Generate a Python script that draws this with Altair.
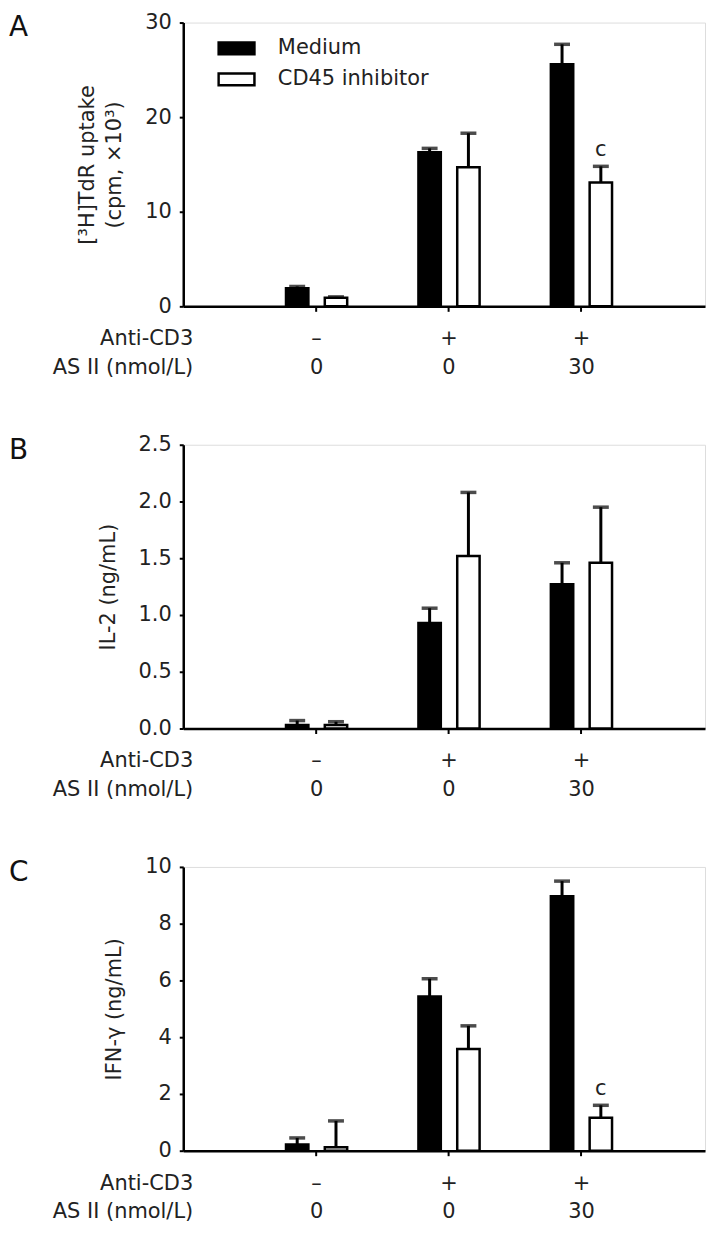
import altair as alt
import pandas as pd

FONT = "DejaVu Sans"
FS = 21

# ---- data ----
anti_cd3 = ["–", "+", "+"]
as_ii = ["0", "0", "30"]
series = ["Medium", "CD45 inhibitor"]
row_labels = ["Anti-CD3", "AS II (nmol/L)"]

a_medium = [1.9, 16.3, 25.6]
a_medium_err = [0.2, 0.4, 2.1]
a_inhib = [0.9, 14.7, 13.1]
a_inhib_err = [0.1, 3.6, 1.7]
a_sig = ["", "", "c"]

b_medium = [0.03, 0.93, 1.27]
b_medium_err = [0.04, 0.13, 0.19]
b_inhib = [0.03, 1.52, 1.46]
b_inhib_err = [0.03, 0.56, 0.49]
b_sig = ["", "", ""]

c_medium = [0.22, 5.43, 8.97]
c_medium_err = [0.23, 0.63, 0.53]
c_inhib = [0.12, 3.58, 1.16]
c_inhib_err = [0.93, 0.82, 0.44]
c_sig = ["", "", "c"]

cats = [f"{a} {b}" for a, b in zip(anti_cd3, as_ii)]

W = 524
H = 285


def build_df(med, med_err, inh, inh_err, sig):
    rows = []
    for i in range(3):
        rows.append(dict(cat=cats[i], series=series[0], value=med[i],
                         top=med[i] + med_err[i], sig=""))
        rows.append(dict(cat=cats[i], series=series[1], value=inh[i],
                         top=inh[i] + inh_err[i], sig=sig[i]))
    return pd.DataFrame(rows)


cat_df = pd.DataFrame({"cat": cats, "cd3": anti_cd3, "asii": as_ii})

x_axis = alt.Axis(labels=False, title=None, domainWidth=2.5, domainColor="black",
                  tickSize=5, tickWidth=2, tickColor="black", grid=False)
x_scale = alt.Scale(paddingInner=0.538, paddingOuter=0.739, align=0.525)


def xenc():
    return alt.X("cat:N", sort=cats, scale=x_scale, axis=x_axis)


def xoenc():
    return alt.XOffset("series:N", sort=series,
                       scale=alt.Scale(paddingInner=0.423, paddingOuter=0))


def panel(letter, df, domain, ticks, fmt, title, legend):
    yscale = alt.Scale(domain=domain, nice=False, zero=True)
    yaxis = alt.Axis(title=title, values=ticks, format=fmt, grid=False,
                     domainWidth=2.5, domainColor="black", tickSize=4, tickWidth=2,
                     tickColor="black", labelPadding=8, labelFontSize=FS,
                     labelFont=FONT, labelColor="#222", titleFont=FONT,
                     titleFontSize=FS, titleFontWeight="normal", titleColor="#222",
                     titlePadding=20, titleLineHeight=27)

    def y(field):
        return alt.Y(field, scale=yscale, axis=yaxis)

    base = alt.Chart(df)
    if legend:
        leg = alt.Legend(orient="none", legendX=34, legendY=11, title=None,
                         symbolType="M-1,-0.33H1V0.33H-1Z", symbolSize=1296,
                         symbolStrokeColor="black", symbolStrokeWidth=2.5,
                         labelFontSize=FS, labelFont=FONT, labelColor="#222",
                         labelOffset=22, padding=0, clipHeight=30, rowPadding=1)
    else:
        leg = None
    bars = base.mark_bar(stroke="black", strokeWidth=2.5).encode(
        x=xenc(), xOffset=xoenc(), y=y("value:Q"),
        fill=alt.Fill("series:N", sort=series,
                      scale=alt.Scale(domain=series, range=["black", "white"]),
                      legend=leg),
    )
    rule = base.mark_rule(strokeWidth=3, color="black").encode(
        x=xenc(), xOffset=xoenc(), y=y("value:Q"), y2="top:Q")
    cap = base.mark_tick(size=16, thickness=3.5, color="black").encode(
        x=xenc(), xOffset=xoenc(), y=y("top:Q"))
    sig = base.transform_filter("datum.sig != ''").mark_text(
        fontSize=FS, font=FONT, dy=-16, color="#222").encode(
        x=xenc(), xOffset=xoenc(), y=y("top:Q"), text="sig:N")

    cd3_txt = alt.Chart(cat_df).mark_text(fontSize=FS, font=FONT, color="#222").encode(
        x=xenc(), y=alt.value(H + 33), text="cd3:N")
    as_txt = alt.Chart(cat_df).mark_text(fontSize=FS, font=FONT, color="#222").encode(
        x=xenc(), y=alt.value(H + 62), text="asii:N")

    lab_df = pd.DataFrame({"t": [row_labels[0]]})
    lab_df2 = pd.DataFrame({"t": [row_labels[1]]})
    lab1 = alt.Chart(lab_df).mark_text(fontSize=FS, font=FONT, align="right",
                                       color="#222").encode(
        x=alt.value(10), y=alt.value(H + 33), text="t:N")
    lab2 = alt.Chart(lab_df2).mark_text(fontSize=FS, font=FONT, align="right",
                                        color="#222").encode(
        x=alt.value(10), y=alt.value(H + 62), text="t:N")
    let_df = pd.DataFrame({"t": [letter]})
    let = alt.Chart(let_df).mark_text(fontSize=28, font=FONT, align="left",
                                      baseline="middle", color="#111").encode(
        x=alt.value(-175), y=alt.value(6), text="t:N")

    return alt.layer(bars, rule, cap, sig, cd3_txt, as_txt, lab1, lab2, let).properties(
        width=W, height=H)


pa = panel("A", build_df(a_medium, a_medium_err, a_inhib, a_inhib_err, a_sig),
           [0, 30], [0, 10, 20, 30], "d", ["[³H]TdR uptake", "(cpm, ×10³)"], True)
pb = panel("B", build_df(b_medium, b_medium_err, b_inhib, b_inhib_err, b_sig),
           [0, 2.5], [0, 0.5, 1.0, 1.5, 2.0, 2.5], ".1f", "IL-2 (ng/mL)", False)
pc = panel("C", build_df(c_medium, c_medium_err, c_inhib, c_inhib_err, c_sig),
           [0, 10], [0, 2, 4, 6, 8, 10], "d", "IFN-γ (ng/mL)", False)

chart = alt.vconcat(pa, pb, pc, spacing=139, bounds="flush").resolve_scale(
    x="independent", y="independent", fill="independent"
).properties(
    padding={"left": 0, "top": 0, "right": 0, "bottom": 0}
).configure_view(stroke=None).configure(font=FONT, background="white")

chart.save("out.html", embed_options={"renderer": "svg", "actions": False})
